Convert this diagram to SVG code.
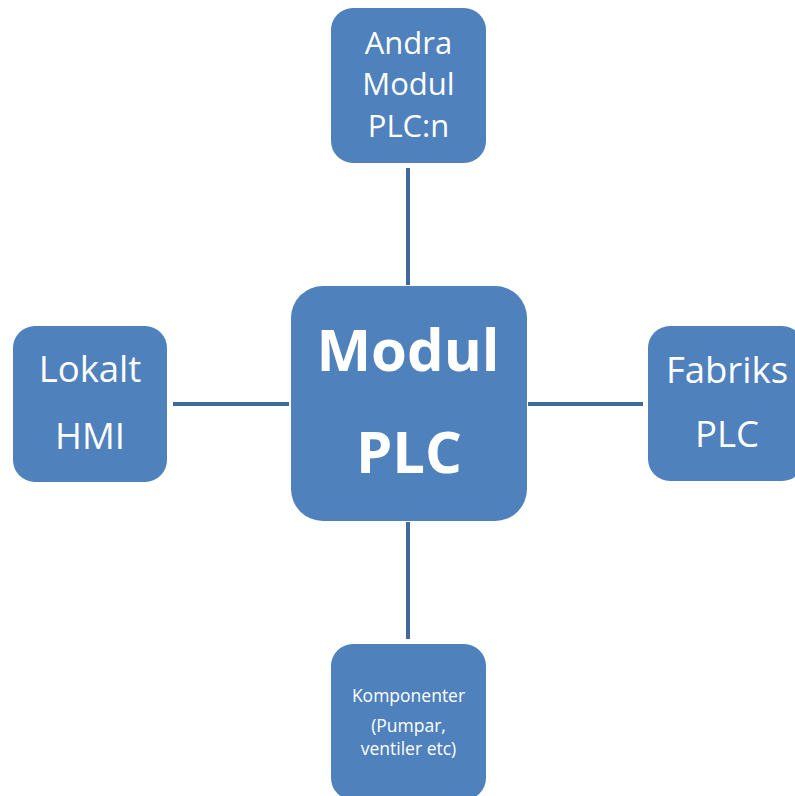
<svg xmlns="http://www.w3.org/2000/svg" width="795" height="796" viewBox="0 0 795 796">
  <style>
    .node { fill: #4f81bd; }
    .conn { stroke: #40699c; stroke-width: 4; fill: none; }
    text { font-family: "Open Sans", "Liberation Sans", sans-serif; fill: #ffffff; text-anchor: middle; }
    .t32 { font-size: 31px; }
    .t36 { font-size: 36.5px; }
    .big { font-size: 58px; font-weight: bold; }
    .small { font-size: 17.5px; }
  </style>
  <rect width="795" height="796" fill="#ffffff"/>
  <g id="connectors">
    <line class="conn" x1="408" y1="168" x2="408" y2="285"/>
    <line class="conn" x1="408" y1="522" x2="408" y2="639"/>
    <line class="conn" x1="173" y1="404" x2="289" y2="404"/>
    <line class="conn" x1="528" y1="404" x2="643" y2="404"/>
  </g>
  <g id="node-andra">
    <rect class="node" x="331" y="8" width="155" height="155" rx="22"/>
    <text class="t32" x="408.5" y="54">Andra</text>
    <text class="t32" x="408.5" y="95">Modul</text>
    <text class="t32" x="408.5" y="137">PLC:n</text>
  </g>
  <g id="node-modul">
    <rect class="node" x="291" y="286" width="236" height="235" rx="32"/>
    <text class="big" x="408" y="371">Modul</text>
    <text class="big" x="409" y="473">PLC</text>
  </g>
  <g id="node-lokalt">
    <rect class="node" x="13" y="326" width="154" height="156" rx="22"/>
    <text class="t36" x="90" y="382">Lokalt</text>
    <text class="t36" x="90" y="449">HMI</text>
  </g>
  <g id="node-fabriks">
    <rect class="node" x="648" y="326" width="156" height="155" rx="22"/>
    <text class="t36" x="727" y="383">Fabriks</text>
    <text class="t36" x="727" y="447">PLC</text>
  </g>
  <g id="node-komponenter">
    <rect class="node" x="331" y="644" width="155" height="156" rx="22"/>
    <text class="small" x="408.5" y="702">Komponenter</text>
    <text class="small" x="408.5" y="732">(Pumpar,</text>
    <text class="small" x="408.5" y="755">ventiler etc)</text>
  </g>
</svg>
